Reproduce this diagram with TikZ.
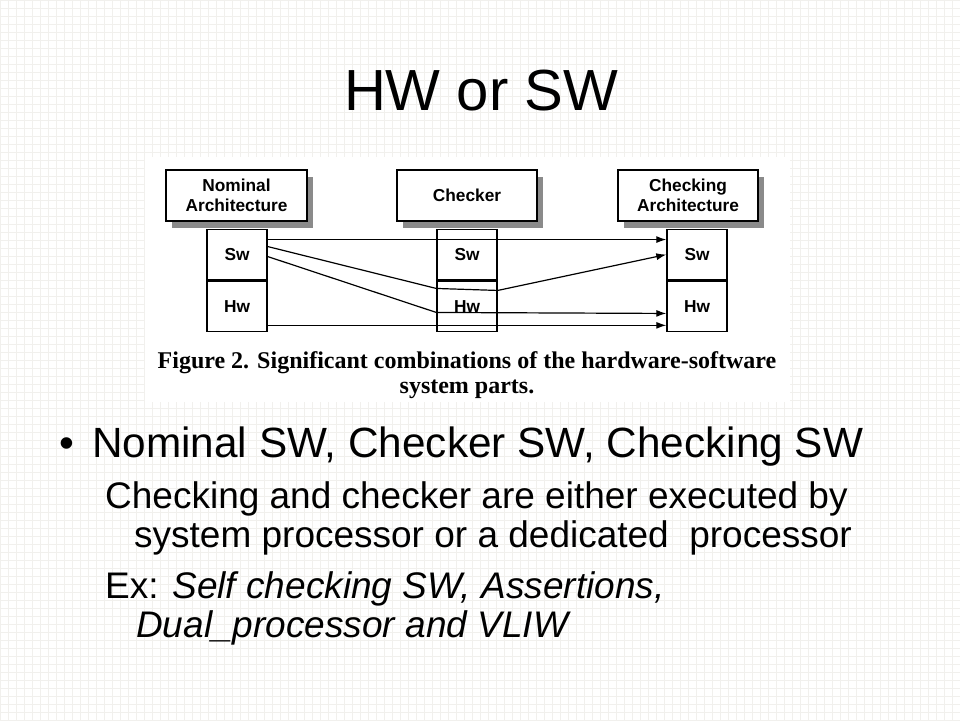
\documentclass[tikz,border=0pt]{standalone}
\usepackage{fontspec}
\setmainfont{Liberation Sans}
\newfontfamily\figfont{Liberation Serif}
\usetikzlibrary{arrows.meta,shadows,positioning}
\definecolor{gridgray}{RGB}{241,240,237}
\definecolor{shadegray}{RGB}{138,138,138}
\tikzstyle{brick} = [rectangle, draw = black, line width = 1.4pt, fill = white, inner sep = 0pt, text centered, font = \fontsize{17.3}{20}\selectfont\bfseries]
\tikzstyle{archbox} = [brick, minimum width = 141pt, minimum height = 51pt, align = center, drop shadow = {shadow xshift = 6pt, shadow yshift = -7pt, fill = shadegray, opacity = 1}]
\tikzstyle{cell} = [brick, minimum width = 60pt, minimum height = 50.5pt]
\tikzstyle{wire} = [line width = 1.2pt, -{Latex[length = 10pt, width = 7pt]}]
\tikzstyle{slide} = [inner sep = 0pt, anchor = base west]

\begin{document}
\begin{tikzpicture}[x = 1pt, y = -1pt, node distance = 0pt]
        \useasboundingbox (0,0) rectangle (960,720);
        % paper
        \fill[white!99!gridgray] (0,0) rectangle (960,720);
        \draw[gridgray, line width = 0.7pt] (0,0) grid[step = 8pt] (960,720);
        \fill[white] (145,157) rectangle (790,402);
        \node (title) [inner sep = 0pt, anchor = base, font = \fontsize{58}{70}\selectfont] at (481,110) {HW or SW};
        % figure
        \node (nom) [archbox] at (236.5,195.5) {Nominal\\Architecture};
        \node (chk) [archbox, minimum width = 140pt] at (467,195.5) {Checker};
        \node (cig) [archbox, minimum width = 140pt] at (688,195.5) {Checking\\Architecture};
        \node (nomsw) [cell] at (237,254.5) {Sw};
        \node (nomhw) [cell, below = of nomsw] {Hw};
        \node (chksw) [cell] at (467,254.5) {Sw};
        \node (chkhw) [cell, below = of chksw] {Hw};
        \node (cigsw) [cell] at (697,254.5) {Sw};
        \node (cighw) [cell, below = of cigsw] {Hw};
        \draw [wire] ([yshift = -11pt]nomsw.north east) -- ([yshift = -11pt]cigsw.north west);
        \draw [wire] ([yshift = -18pt]nomsw.north east) -- ([yshift = -8pt]chkhw.north west) -- ([yshift = -10pt]chkhw.north east) -- ([yshift = -26pt]cigsw.north west);
        \draw [wire] ([yshift = -28pt]nomsw.north east) -- ([yshift = -32pt]chkhw.north west) -- ([yshift = -33pt]cighw.north west);
        \draw [wire] ([yshift = 7pt]nomhw.south east) -- ([yshift = 7pt]cighw.south west);
        \node (cap) [inner sep = 0pt, anchor = base, align = center, font = \figfont\bfseries\fontsize{24}{25}\selectfont] at (467,393) {Figure 2. Significant combinations of the hardware-software\\system parts.};
        % text
        \node (dot) [slide, font = \fontsize{42.3}{50}\selectfont] at (59,457) {•};
        \node (pt1) [slide, font = \fontsize{42.3}{50}\selectfont] at (92,457) {Nominal SW, Checker SW, Checking SW};
        \node (sub1) [slide, font = \fontsize{37}{40}\selectfont] at (105,508) {Checking and checker are either executed by};
        \node (sub2) [slide, font = \fontsize{37}{40}\selectfont] at (134,547) {system processor or a dedicated\ \ processor};
        \node (sub3) [slide, font = \fontsize{37}{40}\selectfont] at (105,598) {Ex: \textit{Self checking SW, Assertions,}};
        \node (sub4) [slide, font = \fontsize{37}{40}\selectfont\itshape] at (136,637) {Dual\_processor and VLIW};
    \end{tikzpicture}
\end{document}
